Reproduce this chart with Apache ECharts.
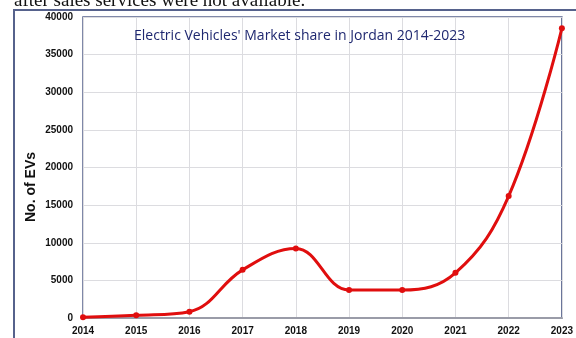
<!DOCTYPE html>
<html><head><meta charset="utf-8">
<script src="https://cdn.jsdelivr.net/npm/echarts@6/dist/echarts.min.js"></script>
<style>html,body{margin:0;padding:0;background:#fff}#c{width:576px;height:338px}</style>
</head><body><div id="c"></div>
<script>
const years = ['2014','2015','2016','2017','2018','2019','2020','2021','2022','2023'];
const evCounts = [100, 350, 840, 6400, 9250, 3720, 3720, 6000, 16200, 38500];
const yTicks = {min: 0, max: 40000, interval: 5000};
const titleText = "Electric Vehicles' Market share in Jordan 2014-2023";
const yName = 'No. of EVs';
const topText = 'after sales services were not available.';

const chart = echarts.init(document.getElementById('c'), null, {renderer: 'canvas'});
chart.setOption({
  animation: false,
  backgroundColor: '#fff',
  graphic: [
    {type: 'rect', shape: {x: 14, y: 10, width: 600, height: 400},
     style: {fill: 'none', stroke: '#56628c', lineWidth: 2}, z: 0},
    {type: 'text', left: 14, top: -8,
     style: {text: topText, font: '19px "Liberation Serif", "Times New Roman", serif', fill: '#111'}},
    {type: 'text', x: 31, y: 187, rotation: Math.PI / 2,
     style: {text: yName, font: 'bold 14px "Liberation Sans", Arial, sans-serif', fill: '#111', align: 'center', verticalAlign: 'middle'}}
  ],
  title: {
    text: titleText, left: 129, top: 24,
    textStyle: {fontFamily: 'Open Sans, Liberation Sans, sans-serif', fontSize: 14, fontWeight: 'normal', color: '#1f2870'}
  },
  grid: {left: 83, right: 13, top: 17, bottom: 20, show: true, borderColor: '#56628c', borderWidth: 1.5, backgroundColor: 'transparent'},
  xAxis: {
    type: 'category', data: years, boundaryGap: false,
    axisLine: {show: true, lineStyle: {color: '#9a9ca8', width: 2}},
    axisTick: {show: false},
    axisLabel: {color: '#111', fontWeight: 'bold', fontSize: 10, fontFamily: 'Liberation Sans, Arial, sans-serif', margin: 8, interval: 0},
    splitLine: {show: true, lineStyle: {color: '#dcdce0', width: 1}}
  },
  yAxis: {
    type: 'value', min: yTicks.min, max: yTicks.max, interval: yTicks.interval,
    axisLine: {show: false}, axisTick: {show: false},
    axisLabel: {color: '#111', fontWeight: 'bold', fontSize: 10, fontFamily: 'Liberation Sans, Arial, sans-serif', margin: 10,
      formatter: v => String(v)},
    splitLine: {show: true, lineStyle: {color: '#dcdce0', width: 1}}
  },
  series: [{
    type: 'line', data: evCounts, smooth: 0.4,
    symbol: 'circle', symbolSize: 6,
    itemStyle: {color: '#e00e0e'},
    lineStyle: {color: '#e00e0e', width: 3}
  }]
});
</script></body></html>
